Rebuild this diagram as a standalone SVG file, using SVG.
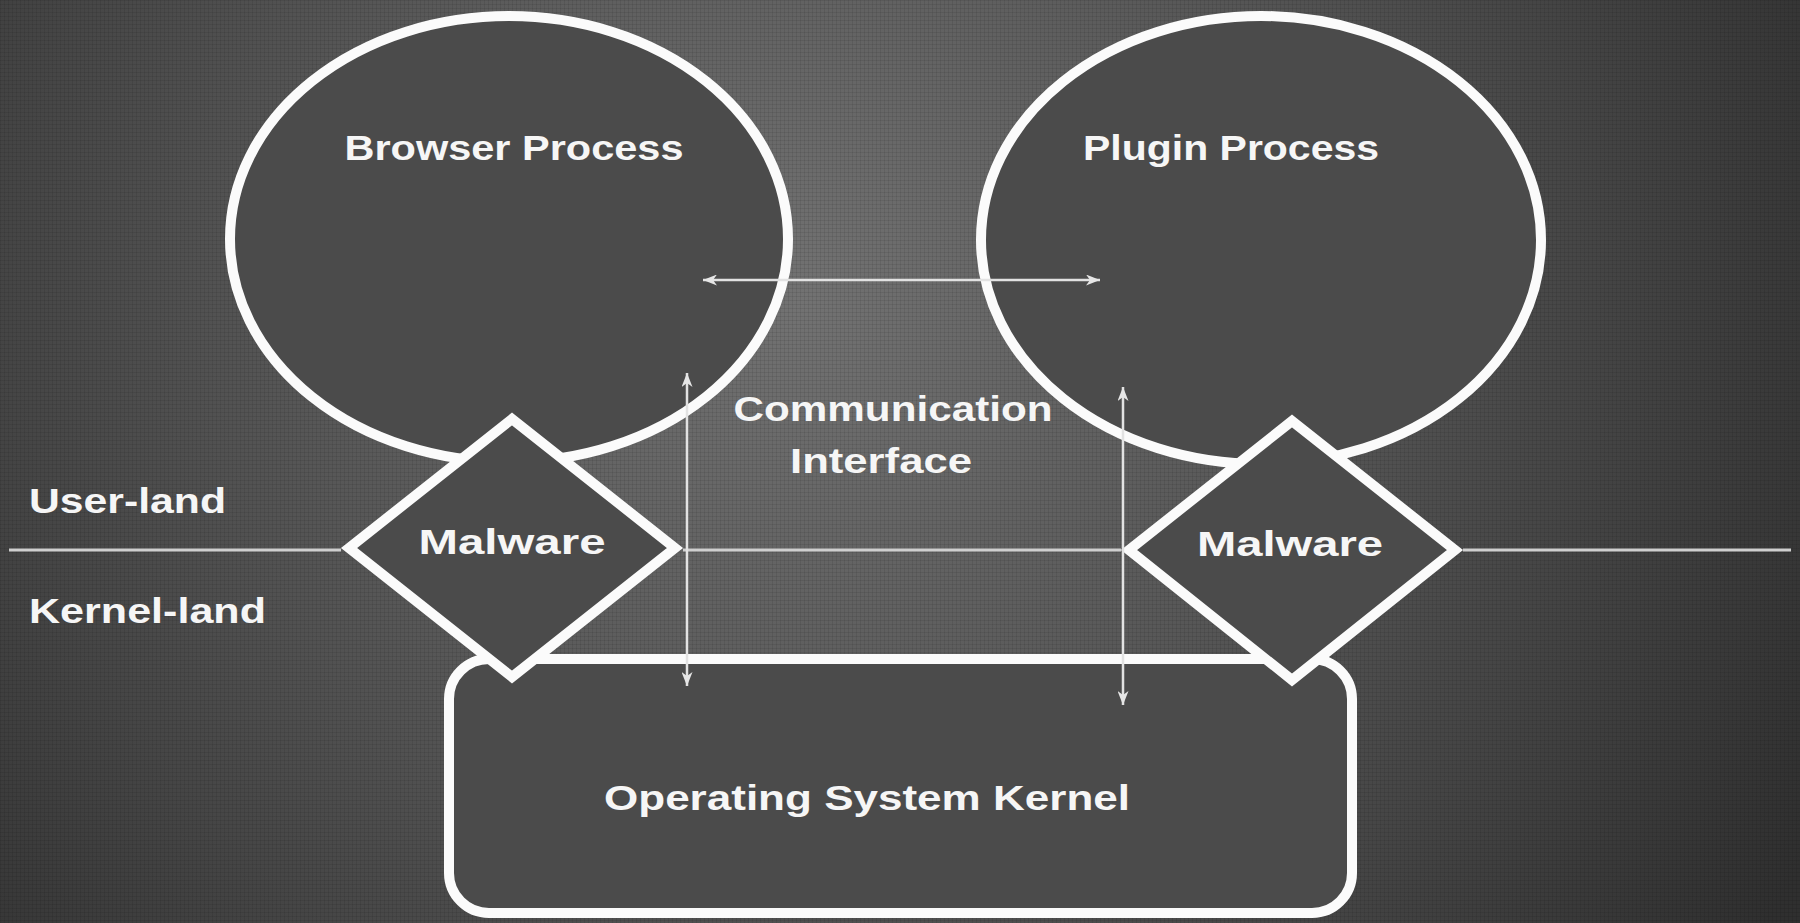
<svg xmlns="http://www.w3.org/2000/svg" width="1800" height="923" viewBox="0 0 1800 923">
  <defs>
    <radialGradient id="bg" cx="800" cy="300" r="1150" gradientUnits="userSpaceOnUse">
      <stop offset="0" stop-color="#727272"/>
      <stop offset="0.45" stop-color="#565656"/>
      <stop offset="1" stop-color="#2f2f2f"/>
    </radialGradient>
    <pattern id="tex" width="4" height="4" patternUnits="userSpaceOnUse">
      <rect x="0" y="0" width="4" height="1" fill="#000" fill-opacity="0.08"/>
      <rect x="0" y="0" width="1" height="4" fill="#000" fill-opacity="0.08"/>
    </pattern>
    <marker id="ah" markerUnits="userSpaceOnUse" markerWidth="15" markerHeight="11" refX="14" refY="5.5" orient="auto-start-reverse">
      <path d="M0,0 L14,5.5 L0,11 L4,5.5 Z" fill="#e6e6e6"/>
    </marker>
    <style>
      .shape { fill: #4b4b4b; stroke: #fbfbfb; stroke-width: 10; }
      .lbl { font-family: "Liberation Sans", Arial, sans-serif; font-weight: bold; font-size: 35px; fill: #f6f6f6; }
      .sep { stroke: #cfcfcf; stroke-width: 3; fill: none; }
      .arr { stroke: #e2e2e2; stroke-width: 2.5; fill: none; }
    </style>
  </defs>

  <rect x="0" y="0" width="1800" height="923" fill="url(#bg)"/>
  <rect x="0" y="0" width="1800" height="923" fill="url(#tex)"/>

  <g id="browser-process">
    <ellipse class="shape" cx="509" cy="239" rx="279" ry="223"/>
    <text class="lbl" x="514" y="160" text-anchor="middle" textLength="339" lengthAdjust="spacingAndGlyphs">Browser Process</text>
  </g>

  <g id="plugin-process">
    <ellipse class="shape" cx="1261" cy="240" rx="280" ry="224"/>
    <text class="lbl" x="1231" y="160" text-anchor="middle" textLength="296" lengthAdjust="spacingAndGlyphs">Plugin Process</text>
  </g>

  <g id="os-kernel">
    <rect class="shape" x="449" y="659" width="903" height="254" rx="40" ry="40"/>
    <text class="lbl" x="867" y="810" text-anchor="middle" textLength="526" lengthAdjust="spacingAndGlyphs">Operating System Kernel</text>
  </g>

  <g id="malware-left">
    <polygon class="shape" points="512,419 675,548 512,677 349,548"/>
    <text class="lbl" x="512" y="554" text-anchor="middle" textLength="187" lengthAdjust="spacingAndGlyphs">Malware</text>
  </g>

  <g id="malware-right">
    <polygon class="shape" points="1292,421 1455,550 1292,680 1129,550"/>
    <text class="lbl" x="1290" y="556" text-anchor="middle" textLength="186" lengthAdjust="spacingAndGlyphs">Malware</text>
  </g>

  <g id="communication-interface">
    <text class="lbl" x="893" y="421" text-anchor="middle" textLength="319" lengthAdjust="spacingAndGlyphs">Communication</text>
    <text class="lbl" x="881" y="473" text-anchor="middle" textLength="182" lengthAdjust="spacingAndGlyphs">Interface</text>
  </g>

  <g id="user-land">
    <text class="lbl" x="29" y="513" textLength="197" lengthAdjust="spacingAndGlyphs">User-land</text>
  </g>

  <g id="kernel-land">
    <text class="lbl" x="29" y="623" textLength="237" lengthAdjust="spacingAndGlyphs">Kernel-land</text>
  </g>

  <g id="connectors">
    <line class="sep" x1="9" y1="550" x2="341" y2="550"/>
    <line class="sep" x1="683" y1="550" x2="1121" y2="550"/>
    <line class="sep" x1="1463" y1="550" x2="1791" y2="550"/>
    <line class="arr" x1="703" y1="280" x2="1100" y2="280" marker-start="url(#ah)" marker-end="url(#ah)"/>
    <line class="arr" x1="687" y1="373" x2="687" y2="686" marker-start="url(#ah)" marker-end="url(#ah)"/>
    <line class="arr" x1="1123" y1="387" x2="1123" y2="705" marker-start="url(#ah)" marker-end="url(#ah)"/>
  </g>
</svg>
